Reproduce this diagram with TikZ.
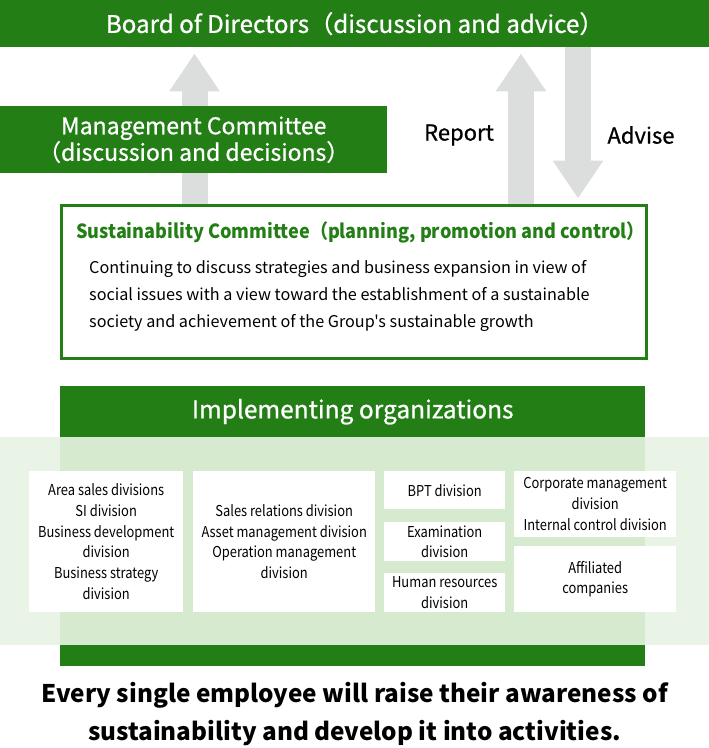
\documentclass[tikz,border=0pt]{standalone}
\usepackage{fontspec}
\setmainfont{Noto Sans CJK JP}[Ligatures=TeXOff]
\newfontfamily\medfont[FakeBold=0.8]{Noto Sans CJK JP}
\newfontfamily\narrowfont[FakeStretch=0.86]{Noto Sans CJK JP}
\newfontfamily\titlefont[FakeStretch=0.927]{Noto Sans CJK JP}
\usetikzlibrary{arrows.meta,positioning,backgrounds}
\definecolor{orggreen}{RGB}{35,126,22}
\definecolor{arrowgray}{RGB}{220,221,221}
\definecolor{bandgreen}{RGB}{234,244,230}
\definecolor{innergreen}{RGB}{214,234,208}

\begin{document}
\begin{tikzpicture}[x=1pt,y=-1pt,
	greenbar/.style={fill=orggreen,text=white,inner sep=0pt,align=center},
	divbox/.style={fill=white,inner sep=0pt,align=center,anchor=north west,
		font=\narrowfont\fontsize{15}{20.8}\selectfont},
	flow/.style={draw=arrowgray,line width=26pt,-{Triangle[length=38pt,width=48pt]}},
	side/.style={font=\medfont\fontsize{22}{25}\selectfont}]
	\useasboundingbox (0,0) rectangle (709,748);
	\node[greenbar,anchor=north west,minimum width=709pt,minimum height=47pt,
		font=\medfont\fontsize{24.2}{26}\selectfont] (board) at (0,0)
		{Board of Directors（discussion and advice）};
	\node[greenbar,anchor=north west,minimum width=387pt,minimum height=67pt,
		font=\medfont\fontsize{23}{26.5}\selectfont] (mc) at (0,106)
		{Management Committee\\（discussion and decisions）};
	\node[side] (report) at (459,135) {Report};
	\node[side] (advise) at (641,135) {Advise};
	% sustainability committee
	\node[draw=orggreen,line width=3pt,fill=white,anchor=north west,
		minimum width=585pt,minimum height=153pt] (sus) at (59.5,203.5) {};
	\node[anchor=west,inner sep=0pt,text=orggreen,
		font=\titlefont\bfseries\fontsize{19.5}{22}\selectfont] (sustitle) at (76,232)
		{Sustainability Committee（planning, promotion and control）};
	\node[anchor=west,inner sep=0pt,align=left,
		font=\fontsize{16.2}{27}\selectfont] (susbody) at (89,295.5)
		{Continuing to discuss strategies and business expansion in view of\\
		social issues with a view toward the establishment of a sustainable\\
		society and achievement of the Group's sustainable growth};
	% arrows behind the boxes
	\begin{scope}[on background layer]
		\draw[flow,shorten >=6pt] (sus.north -| 194.5,0) -- (board.south -| 194.5,0);
		\draw[flow,shorten >=6pt] (sus.north -| 521,0) -- (board.south -| 521,0);
		\draw[flow,shorten >=5pt] (board.south -| 578,0) -- (sus.north -| 578,0);
	\end{scope}
	% implementing organizations
	\fill[bandgreen] (0,437) rectangle (709,645);
	\fill[innergreen] (60,437) rectangle (645,645);
	\node[greenbar,anchor=north west,minimum width=585pt,minimum height=51pt,
		font=\medfont\fontsize{24.5}{26}\selectfont] (impl) at (60,386)
		{Implementing organizations};
	\fill[orggreen] (60,645) rectangle (645,666);
	\node[divbox,minimum width=154pt,minimum height=141pt] (area) at (29,471)
		{Area sales divisions\\SI division\\Business development\\division\\Business strategy\\division};
	\node[divbox,minimum width=182pt,minimum height=141pt] (sales) at (193,471)
		{Sales relations division\\Asset management division\\Operation management\\division};
	\node[divbox,minimum width=121pt,minimum height=38pt] (bpt) at (384,471)
		{BPT division};
	\node[divbox,minimum width=121pt,minimum height=39pt] (exam) at (384,522)
		{Examination\\division};
	\node[divbox,minimum width=121pt,minimum height=39pt] (hr) at (384,573)
		{Human resources\\division};
	\node[divbox,minimum width=162pt,minimum height=66pt] (corp) at (514,471)
		{Corporate management\\division\\Internal control division};
	\node[divbox,minimum width=162pt,minimum height=66pt] (affil) at (514,546)
		{Affiliated\\companies};
	\node[align=center,inner sep=0pt,font=\bfseries\fontsize{24.3}{38}\selectfont] (motto) at (354.5,714)
		{Every single employee will raise their awareness of\\
		sustainability and develop it into activities.};
\end{tikzpicture}
\end{document}
